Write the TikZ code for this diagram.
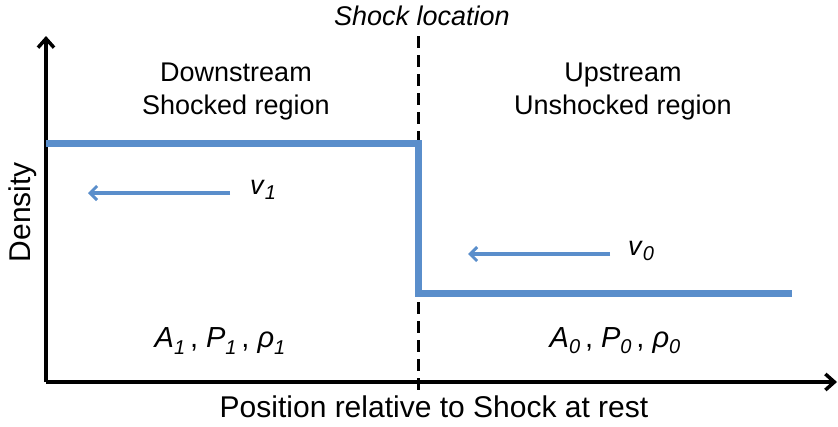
\documentclass[tikz,border=0pt]{standalone}
\usepackage{fontspec}
\setmainfont{Liberation Sans}
\usetikzlibrary{arrows.meta}
\definecolor{lineblue}{RGB}{90,142,203}
\newcommand{\sbs}[1]{\raisebox{-0.4ex}{\fontsize{20}{20}\selectfont\textit{#1}}}
\tikzset{
  axis/.style={line width=4pt, -{Straight Barb[length=9pt,width=16pt,line width=3.5pt]}},
  profile/.style={draw=lineblue, line width=7pt},
  flow/.style={draw=lineblue, line width=3.2pt, -{Straight Barb[length=7pt,width=14pt,line width=3pt]}},
  shockline/.style={line width=3pt, dash pattern=on 12pt off 7pt},
  lbl/.style={font=\fontsize{27}{33}\selectfont, align=center, inner sep=0pt},
  statelbl/.style={font=\fontsize{29}{33}\selectfont, inner sep=0pt},
  axlbl/.style={font=\fontsize{30}{36}\selectfont, inner sep=0pt},
}
\begin{document}
\begin{tikzpicture}[x=1pt,y=-1pt]
\useasboundingbox (0,0) rectangle (838,426);
% axes
\coordinate (origin) at (46,382);
\coordinate (ytip) at (46,36);
\coordinate (xtip) at (837,382);
\draw[axis] (origin) -- (ytip);
\draw[axis] (origin) -- (xtip);
% shock position
\coordinate (shocktop) at (418,36);
\coordinate (shockbot) at (418,390);
\draw[shockline] (shocktop) -- (shockbot);
% density profile
\coordinate (p0) at (46,143);
\coordinate (p1) at (418,143);
\coordinate (p2) at (418,293);
\coordinate (p3) at (792,293);
\draw[profile] (p0) -- (p1) -- (p2) -- (p3);
% flow arrows
\coordinate (v1s) at (230,193);
\coordinate (v1e) at (88,193);
\coordinate (v0s) at (610,254);
\coordinate (v0e) at (468,254);
\draw[flow] (v1s) -- (v1e);
\draw[flow] (v0s) -- (v0e);
% labels
\node[lbl] (shockloc) at (422,16) {\textit{Shock location}};
\node[lbl] (down) at (236,92) {Downstream\\Shocked region};
\node[lbl] (up) at (623,92) {Upstream\\Unshocked region};
\node[lbl, anchor=west] (v1) at (250,190) {\textit{v}\sbs{1}};
\node[lbl, anchor=west] (v0) at (628,251) {\textit{v}\sbs{0}};
\node[statelbl] (s1) at (220,341) {\textit{A}\sbs{1}\,, \textit{P}\sbs{1}\,, \textit{ρ}\sbs{1}};
\node[statelbl] (s0) at (615,341) {\textit{A}\sbs{0}\,, \textit{P}\sbs{0}\,, \textit{ρ}\sbs{0}};
\node[axlbl, rotate=90] (dens) at (23,212) {Density};
\node[axlbl] (xlab) at (434,407) {Position relative to Shock at rest};
\end{tikzpicture}
\end{document}
